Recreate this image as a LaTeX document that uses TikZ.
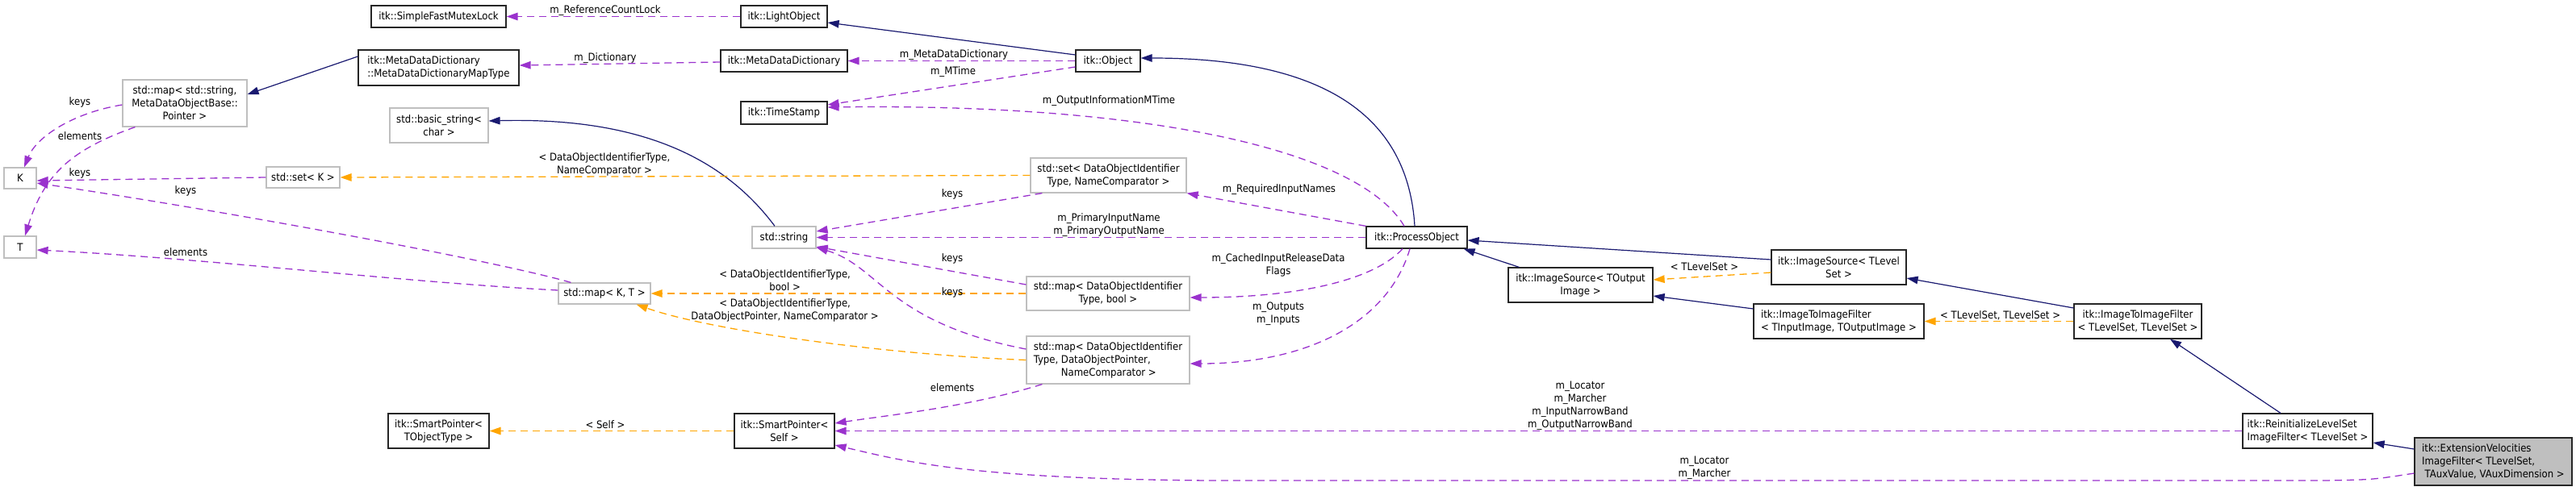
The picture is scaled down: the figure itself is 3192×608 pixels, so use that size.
\documentclass[tikz,border=0pt]{standalone}
\usepackage{fontspec}
\setmainfont{DejaVu Sans Condensed}
\usetikzlibrary{arrows.meta}
\definecolor{edgeNavy}{HTML}{191970}
\definecolor{edgePurple}{HTML}{9A32CD}
\definecolor{edgeOrange}{HTML}{FFA500}
\definecolor{boxGrey}{HTML}{BFBFBF}
\newcommand\dgfont{\fontsize{13}{16}\selectfont}
\tikzset{
  cls/.style={draw=black!85, line width=1.2pt, fill=white, inner sep=0pt, font=\dgfont, align=center},
  tpl/.style={cls, draw=boxGrey},
  lbl/.style={inner sep=0pt, font=\dgfont, align=center},
  tip/.style={-{Triangle[length=14pt,width=9.5pt]}},
  inh/.style={draw=edgeNavy, line width=1.2pt, tip},
  use/.style={draw=edgePurple, line width=1.3pt, dash pattern=on 9pt off 6pt, tip},
  tmpl/.style={draw=edgeOrange, line width=1.3pt, dash pattern=on 9pt off 6pt, tip},
}
\begin{document}
\begin{tikzpicture}[x=1pt,y=-1pt]
\useasboundingbox (0,0) rectangle (3192,608);
% nodes
\node[tpl, minimum width=40pt, minimum height=26pt] (K) at (25,221) {K};
\node[tpl, minimum width=40pt, minimum height=27pt] (T) at (25,306.5) {T};
\node[tpl, minimum width=154pt, minimum height=58pt] (mapStr) at (229,128) {std::map< std::string,\\MetaDataObjectBase::\\Pointer >};
\node[tpl, minimum width=91pt, minimum height=26pt] (setK) at (375.5,220) {std::set< K >};
\node[cls, minimum width=167pt, minimum height=27pt] (mutex) at (543.5,20.5) {itk::SimpleFastMutexLock};
\node[cls, minimum width=107pt, minimum height=27pt] (light) at (971.5,20.5) {itk::LightObject};
\node[cls, minimum width=199pt, minimum height=44pt, align=left] (maptype) at (543.5,84) {itk::MetaDataDictionary\\::MetaDataDictionaryMapType};
\node[cls, minimum width=157pt, minimum height=27pt] (mdd) at (971.5,75.5) {itk::MetaDataDictionary};
\node[cls, minimum width=107pt, minimum height=28pt] (timestamp) at (971.5,140) {itk::TimeStamp};
\node[tpl, minimum width=122pt, minimum height=43pt] (basicstr) at (544,155.5) {std::basic\_string<\\char >};
\node[cls, minimum width=80pt, minimum height=27pt] (object) at (1373,75.5) {itk::Object};
\node[tpl, minimum width=193pt, minimum height=43pt] (setDOI) at (1373.5,217.5) {std::set< DataObjectIdentifier\\Type, NameComparator >};
\node[tpl, minimum width=79pt, minimum height=27pt] (string) at (971.5,294.5) {std::string};
\node[tpl, minimum width=114pt, minimum height=26pt] (mapKT) at (749,364) {std::map< K, T >};
\node[tpl, minimum width=202pt, minimum height=42pt] (mapDOIbool) at (1373,364) {std::map< DataObjectIdentifier\\Type, bool >};
\node[tpl, minimum width=202pt, minimum height=59pt, align=left] (mapDOIDOP) at (1373,446.5) {std::map< DataObjectIdentifier\\Type, DataObjectPointer,\\\hspace*{34pt}NameComparator >};
\node[cls, minimum width=125pt, minimum height=43pt] (spT) at (543.5,534.5) {itk::SmartPointer<\\TObjectType >};
\node[cls, minimum width=124pt, minimum height=43pt] (spSelf) at (972,534.5) {itk::SmartPointer<\\Self >};
\node[cls, minimum width=125pt, minimum height=27pt] (process) at (1755.5,294.5) {itk::ProcessObject};
\node[cls, minimum width=179pt, minimum height=43pt] (isOut) at (1958.5,353.5) {itk::ImageSource< TOutput\\Image >};
\node[cls, minimum width=167pt, minimum height=43pt] (isTL) at (2278.5,331.5) {itk::ImageSource< TLevel\\Set >};
\node[cls, minimum width=211pt, minimum height=43pt, align=left] (itifIO) at (2278.5,398.5) {itk::ImageToImageFilter\\< TInputImage, TOutputImage >};
\node[cls, minimum width=158pt, minimum height=43pt] (itifTL) at (2649,398.5) {itk::ImageToImageFilter\\< TLevelSet, TLevelSet >};
\node[cls, minimum width=161pt, minimum height=43pt, align=left] (reinit) at (2859.5,534.5) {itk::ReinitializeLevelSet\\ImageFilter< TLevelSet >};
\node[cls, fill=boxGrey, minimum width=195pt, minimum height=59pt, align=left] (ev) at (3089.5,572.5) {itk::ExtensionVelocities\\ImageFilter< TLevelSet,\\\hspace*{3.5pt}TAuxValue, VAuxDimension >};
% edges
\draw[use] (light.west) -- (mutex.east);
\draw[inh] ([yshift=7.5pt]object.west) -- ([yshift=-7.5pt]light.east);
\draw[use] ([yshift=-1.5pt]mdd.west) -- ([yshift=3pt]maptype.east);
\draw[inh] ([yshift=14pt]maptype.west) -- ([yshift=11pt]mapStr.east);
\draw[use] (object.west) -- (mdd.east);
\draw[use] ([yshift=-7.5pt]object.west) -- ([yshift=10pt]timestamp.east);
\draw[use] ([xshift=-15.5pt]process.north) .. controls (1680,180) and (1400,128) .. ([yshift=7pt]timestamp.east);
\draw[inh] ([xshift=-11.5pt]string.north) .. controls (900,200) and (800,145) .. ([yshift=5.5pt]basicstr.east);
\draw[inh] ([xshift=-2.5pt]process.north) .. controls (1745,150) and (1650,72) .. ([yshift=3.5pt]object.east);
\draw[tmpl] (setDOI.west) -- (setK.east);
\draw[use] ([xshift=15pt]setDOI.south west) -- ([yshift=7.5pt]string.east);
\draw[use] (process.north west) -- (setDOI.south east);
\draw[use] (process.west) -- (string.east);
\draw[use] ([yshift=11pt]mapDOIbool.west) -- ([yshift=-11.5pt]string.east);
\draw[use] ([yshift=13.5pt]mapDOIDOP.west) .. controls (1100,400) and (1090,330) .. ([yshift=-12.5pt]string.east);
\draw[tmpl] (mapDOIbool.west) -- (mapKT.east);
\draw[tmpl] (mapDOIDOP.west) .. controls (1100,440) and (880,410) .. ([xshift=-18pt]mapKT.south east);
\draw[use] ([xshift=-17.5pt]process.south) .. controls (1700,350) and (1600,369) .. ([yshift=-5pt]mapDOIbool.east);
\draw[use] ([xshift=-8.5pt]process.south) .. controls (1720,400) and (1620,451) .. ([yshift=-4.5pt]mapDOIDOP.east);
\draw[use] ([xshift=16pt]mapKT.north west) .. controls (620,325) and (300,265) .. ([yshift=-6pt]K.east);
\draw[use] ([yshift=4pt]mapKT.west) .. controls (500,350) and (250,320) .. ([yshift=-3.5pt]T.east);
\draw[use] (setK.west) -- ([yshift=-3pt]K.east);
\draw[use] ([yshift=-2pt]mapStr.west) .. controls (90,140) and (45,170) .. ([xshift=5pt]K.north);
\draw[use] ([xshift=16pt]mapStr.south west) .. controls (90,185) and (55,215) .. ([xshift=6pt]T.north);
\draw[inh] ([xshift=14pt]isOut.north west) -- ([xshift=-5pt]process.south east);
\draw[inh] ([yshift=9.5pt]isTL.west) -- ([yshift=-3.5pt]process.east);
\draw[tmpl] ([yshift=-6.5pt]isTL.west) -- ([yshift=6.5pt]isOut.east);
\draw[inh] ([yshift=15.5pt]itifIO.west) -- ([yshift=-13.5pt]isOut.east);
\draw[inh] ([yshift=16.5pt]itifTL.west) -- ([yshift=-13.5pt]isTL.east);
\draw[tmpl] (itifTL.west) -- (itifIO.east);
\draw[inh] ([xshift=-33.5pt]reinit.north) -- ([xshift=40pt]itifTL.south);
\draw[inh] ([yshift=15.5pt]ev.west) -- ([yshift=-14.5pt]reinit.east);
\draw[use] (reinit.west) -- (spSelf.east);
\draw[use] ([yshift=-14.5pt]ev.west) .. controls (2940,595) .. (2880,596) -- (1500,596) .. controls (1200,594) and (1120,572) .. ([yshift=-17.5pt]spSelf.east);
\draw[tmpl] (spSelf.west) -- (spT.east);
\draw[use] ([xshift=20pt]mapDOIDOP.south west) .. controls (1200,505) and (1100,515) .. ([yshift=9.5pt]spSelf.east);
% labels
\node[lbl] (l01) at (750,13) {m\_ReferenceCountLock};
\node[lbl] (l02) at (750,72) {m\_Dictionary};
\node[lbl] (l03) at (1182,68) {m\_MetaDataDictionary};
\node[lbl] (l04) at (1181,89) {m\_MTime};
\node[lbl] (l05) at (1374,125) {m\_OutputInformationMTime};
\node[lbl] (l06) at (749,204) {< DataObjectIdentifierType,\\NameComparator >};
\node[lbl] (l07) at (1180,241) {keys};
\node[lbl] (l08) at (1585,235) {m\_RequiredInputNames};
\node[lbl] (l09) at (1374,279) {m\_PrimaryInputName\\m\_PrimaryOutputName};
\node[lbl] (l10) at (1180,321) {keys};
\node[lbl] (l11) at (1180,363) {keys};
\node[lbl] (l12) at (972.6,348) {< DataObjectIdentifierType,\\bool >};
\node[lbl] (l13) at (972.6,385) {< DataObjectIdentifierType,\\DataObjectPointer, NameComparator >};
\node[lbl] (l14) at (1584,329) {m\_CachedInputReleaseData\\Flags};
\node[lbl] (l15) at (1584,389) {m\_Outputs\\m\_Inputs};
\node[lbl] (l16) at (1180,481) {elements};
\node[lbl] (l17) at (750,527) {< Self >};
\node[lbl] (l18) at (99,127) {keys};
\node[lbl] (l19) at (99,169) {elements};
\node[lbl] (l20) at (99,215) {keys};
\node[lbl] (l21) at (230,237) {keys};
\node[lbl] (l22) at (230,313) {elements};
\node[lbl] (l23) at (2112,331) {< TLevelSet >};
\node[lbl] (l24) at (2478.6,391) {< TLevelSet, TLevelSet >};
\node[lbl] (l25) at (1958,503) {m\_Locator\\m\_Marcher\\m\_InputNarrowBand\\m\_OutputNarrowBand};
\node[lbl] (l26) at (2112,580) {m\_Locator\\m\_Marcher};
\end{tikzpicture}
\end{document}
